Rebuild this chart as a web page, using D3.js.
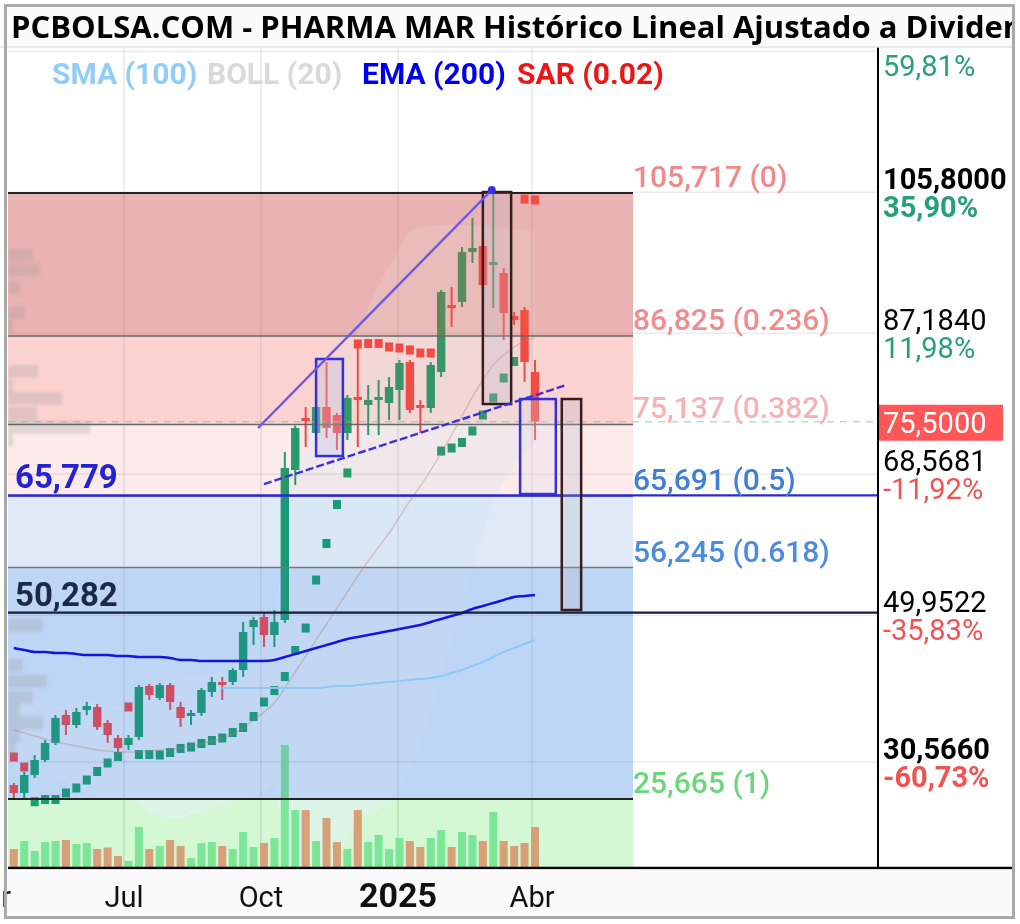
<!DOCTYPE html>
<html>
<head>
<meta charset="utf-8">
<script src="https://cdn.jsdelivr.net/npm/d3@7/dist/d3.min.js"></script>
<style>
  html, body { margin: 0; padding: 0; background: #fff; }
  svg { display: block; }
</style>
</head>
<body>
<svg id="chart" width="1020" height="924"></svg>
<script>
// weekly candles, one date per week
var weekDates = ["2024-04-18","2024-04-25","2024-05-02","2024-05-09","2024-05-16","2024-05-23","2024-05-30",
  "2024-06-06","2024-06-13","2024-06-20","2024-06-27","2024-07-04","2024-07-11","2024-07-18","2024-07-25",
  "2024-08-01","2024-08-08","2024-08-15","2024-08-22","2024-08-29","2024-09-05","2024-09-12","2024-09-19",
  "2024-09-26","2024-10-03","2024-10-10","2024-10-17","2024-10-24","2024-10-31","2024-11-07","2024-11-14",
  "2024-11-21","2024-11-28","2024-12-05","2024-12-12","2024-12-19","2024-12-26","2025-01-02","2025-01-09",
  "2025-01-16","2025-01-23","2025-01-30","2025-02-06","2025-02-13","2025-02-20","2025-02-27","2025-03-06",
  "2025-03-13","2025-03-20","2025-03-27","2025-04-03"];
var openP  = [27.51,26.46,28.83,30.81,33.06,36.76,35.44,37.42,37.82,35.71,33.72,32.80,33.85,40.59,39.01,40.72,37.82,
  36.63,37.03,39.80,41.12,41.12,42.70,48.38,49.71,47.33,49.31,69.12,75.99,74.01,77.45,76.39,74.01,78.77,77.71,78.37,
  77.98,79.69,83.39,77.71,77.32,82.07,90.92,91.32,97.92,98.72,96.21,95.15,89.47,90.26,82.07];
var highP  = [27.78,29.23,31.48,33.46,36.76,37.42,37.69,38.48,38.22,36.10,34.12,34.12,40.72,40.86,40.99,40.99,38.48,
  37.42,40.33,41.78,41.78,42.97,49.05,49.71,50.37,50.63,71.50,75.00,77.45,77.98,83.39,76.65,79.03,86.00,80.35,81.01,
  81.41,83.66,83.66,78.37,83.39,92.90,93.30,98.58,102.41,99.51,105.72,95.81,90.00,90.66,83.66];
var lowP   = [25.80,25.67,28.44,30.55,32.80,34.12,35.04,36.76,34.78,33.06,31.87,32.14,33.46,38.74,38.74,37.42,35.18,
  35.44,36.63,39.14,38.74,40.72,41.78,46.01,45.74,45.74,48.91,67.14,72.16,73.09,73.35,71.77,73.09,72.16,73.75,73.75,
  75.73,75.73,76.65,74.01,76.65,81.41,88.02,90.66,96.47,91.58,90.52,86.30,88.28,80.75,73.09];
var closeP = [26.46,28.83,30.81,33.06,36.37,35.44,37.16,37.95,35.18,34.12,32.40,33.72,40.46,39.41,40.72,38.48,36.37,
  37.03,40.06,41.12,40.72,42.70,47.72,49.31,47.33,49.05,69.39,74.67,75.60,77.45,74.67,74.01,78.64,78.37,78.37,78.77,
  80.09,83.26,77.05,77.32,83.00,92.64,90.52,97.92,98.45,93.56,96.60,89.87,88.94,83.39,75.50];
// weekly volume, thousands of shares
var volume = [380,540,340,520,540,560,480,500,380,410,240,140,820,380,440,560,440,200,500,520,440,380,720,420,500,600,
  2460,1160,1160,540,1000,520,380,1160,520,660,380,600,540,420,600,760,420,720,660,540,1120,540,440,500,820];
var sarP = [31.21,29.89,25.30,25.60,25.60,26.46,27.12,28.17,29.30,30.42,31.28,37.82,31.54,31.54,31.48,31.81,32.34,
  32.53,33.00,33.39,33.72,34.45,35.11,36.56,38.48,39.99,41.85,45.28,48.25,54.59,59.42,64.57,68.73,85.77,85.83,85.83,
  85.37,85.24,84.98,84.58,84.58,71.63,72.03,72.76,74.28,76.39,78.64,81.28,83.46,104.92,104.79];
var ema200 = [45.61,45.35,45.08,45.08,44.95,44.95,44.82,44.69,44.69,44.69,44.55,44.55,44.42,44.42,44.42,44.29,44.03,
  44.03,43.89,43.89,43.89,43.89,43.89,43.89,43.89,44.03,44.42,44.82,45.22,45.61,46.01,46.41,46.80,47.07,47.33,47.60,
  47.86,48.12,48.39,48.65,49.05,49.45,49.84,50.24,50.77,51.16,51.56,51.96,52.35,52.48,52.62];
var sma100 = [null,null,null,null,null,null,null,null,null,null,null,null,null,null,null,null,null,null,null,null,
  40.33,40.33,40.33,40.33,40.33,40.33,40.33,40.33,40.33,40.33,40.46,40.59,40.59,40.72,40.86,40.99,41.12,41.25,41.39,
  41.52,41.65,41.91,42.31,42.70,43.23,43.76,44.42,45.08,45.61,46.14,46.67];
var bollUpper = [40.06,39.40,38.74,38.34,38.08,38.08,38.34,38.48,38.48,38.34,38.08,37.95,38.74,40.06,40.85,41.38,
  41.65,41.65,41.91,42.17,42.57,42.97,44.55,46.14,47.72,49.04,62.52,71.10,75.73,79.03,81.67,83.65,85.64,87.22,90.52,
  93.56,95.94,98.45,100.56,101.09,101.36,101.49,101.49,101.49,101.49,101.36,101.22,101.09,100.96,100.83,100.56];
var bollMid = [34.78,34.38,33.98,33.59,33.19,32.93,32.66,32.40,32.13,32.00,31.87,31.87,31.87,32.00,32.13,32.27,32.40,
  32.66,32.93,33.32,33.72,34.25,35.04,36.10,37.15,38.34,40.33,42.44,44.55,46.67,48.78,50.89,53.01,55.12,57.10,58.95,
  60.80,62.91,65.03,67.01,69.12,71.37,73.75,76.26,78.77,81.01,82.99,84.31,85.37,86.16,86.56];
var bollLower = [29.49,29.36,29.23,28.83,28.30,27.78,26.98,26.32,25.79,25.66,25.66,25.79,25.00,23.94,23.42,23.15,
  23.15,23.68,23.94,24.47,24.87,25.53,25.53,26.06,26.59,27.64,18.14,13.78,13.37,14.31,15.89,18.13,20.38,23.02,23.68,
  24.34,25.66,27.37,29.50,32.93,36.88,41.25,46.01,51.03,56.05,60.66,64.76,67.53,69.78,71.49,72.56];

// volume profile on the left edge
var profilePrice = [97.5,95.5,93.2,89.9,88.0,82.2,80.2,78.6,76.6,74.8,73.1,48.6,43.3,41.2,39.1,37.4,35.7,34.1,32.4];
var profileVol   = [25,32,12,17,5,30,5,54,29,82,5,35,15,39,25,12,35,12,8];

// Fibonacci retracement
var fibPrices = [105.717, 86.825, 75.137, 65.691, 56.245, 25.665];
var fibLabels = ["105,717 (0)", "86,825 (0.236)", "75,137 (0.382)", "65,691 (0.5)", "56,245 (0.618)", "25,665 (1)"];

// horizontal levels
var levelPrices = [65.779, 50.282];
var levelLabels = ["65,779", "50,282"];

// right axis (first price label sits under the title bar)
var axisPrices = [124.42, 105.80, 87.184, 68.5681, 49.9522, 30.566];
var axisLabels = ["124,4200", "105,8000", "87,1840", "68,5681", "49,9522", "30,5660"];
var axisPct    = ["59,81%", "35,90%", "11,98%", "-11,92%", "-35,83%", "-60,73%"];
var lastPrice = 75.50;
var lastLabel = "75,5000";

// time axis
var tickDates  = ["2024-04-01", "2024-07-01", "2024-10-01", "2025-01-01", "2025-04-01"];
var tickLabels = ["Abr", "Jul", "Oct", "2025", "Abr"];

// drawn annotations
var trendStart = ["2024-09-29", "2024-10-03"];
var trendEnd   = ["2025-03-05", "2025-04-24"];
var trendFrom  = [74.67, 67.27];
var trendTo    = [106.11, 80.35];
var boxStart = ["2024-11-07", "2025-02-27", "2025-03-24", "2025-04-21"];
var boxEnd   = ["2024-11-25", "2025-03-18", "2025-04-17", "2025-05-04"];
var boxTop   = [83.79, 105.85, 78.50, 78.50];
var boxBot   = [70.97, 77.84, 65.95, 50.63];

var legendNames = ["SMA (100)", "BOLL (20)", "EMA (200)", "SAR (0.02)"];

// ---------------------------------------------------------------
var svg = d3.select("#chart");
var parse = d3.utcParse("%Y-%m-%d");
var PL = 8, PR = 878, PT = 47, PB = 868, ZR = 633;

var x = d3.scaleUtc().domain([parse("2024-07-01"), parse("2025-04-01")]).range([124, 532]);
var y = d3.scaleLinear().domain([25.665, 105.717]).range([799, 193]);
var yv = d3.scaleLinear().domain([0, 3000]).range([PB, PB - 150]);
var wProf = d3.scaleLinear().domain([0, 100]).range([0, 100]);

var dates = weekDates.map(parse);
var data = dates.map(function(d, i) {
  return {date: d, o: openP[i], h: highP[i], l: lowP[i], c: closeP[i], v: volume[i], sar: sarP[i],
          ema: ema200[i], sma: sma100[i], up: bollUpper[i], mid: bollMid[i], lo: bollLower[i]};
});

var GREEN = "#14a06e", RED = "#f04848";

var defs = svg.append("defs");
defs.append("clipPath").attr("id", "plotclip")
  .append("rect").attr("x", PL).attr("y", PT).attr("width", PR - PL).attr("height", PB - PT);
defs.append("filter").attr("id", "blur").append("feGaussianBlur").attr("stdDeviation", 1.8);

svg.append("rect").attr("width", 1020).attr("height", 924).attr("fill", "#fff");

var plot = svg.append("g").attr("clip-path", "url(#plotclip)");

// fibonacci zones: a light base under the candles, a tint laid over them
var zoneBase  = ["rgb(227,217,231)", "rgb(252,231,236)", "rgb(253,247,250)", "rgb(242,249,252)", "rgb(220,241,255)"];
var zoneTint  = ["rgb(253,93,60)", "rgb(253,93,60)", "rgb(253,93,60)", "rgb(70,110,210)", "rgb(70,110,210)"];
var zoneAlpha = [0.3, 0.15, 0.08, 0.1, 0.2];
function zones(g, tint) {
  for (var i = 0; i < fibPrices.length - 1; i++) {
    g.append("rect").attr("x", PL).attr("width", ZR - PL)
      .attr("y", y(fibPrices[i])).attr("height", y(fibPrices[i + 1]) - y(fibPrices[i]))
      .attr("fill", tint ? zoneTint[i] : zoneBase[i])
      .attr("opacity", tint ? zoneAlpha[i] : 1);
  }
}
zones(plot.append("g"), false);
plot.append("rect").attr("x", PL).attr("width", ZR - PL)
  .attr("y", y(fibPrices[fibPrices.length - 1])).attr("height", PB - y(fibPrices[fibPrices.length - 1]))
  .attr("fill", "rgb(212,247,212)");

// bollinger band fill
var bollArea = d3.area().x(function(d) { return x(d.date); })
  .y0(function(d) { return y(d.lo); }).y1(function(d) { return y(d.up); }).curve(d3.curveMonotoneX);
plot.append("path").datum(data).attr("d", bollArea).attr("fill", "rgb(228,244,250)").attr("opacity", 0.5);

// grid
plot.selectAll("line.vg").data(tickDates).enter().append("line")
  .attr("x1", function(d) { return x(parse(d)); }).attr("x2", function(d) { return x(parse(d)); })
  .attr("y1", PT).attr("y2", PB).attr("stroke", "rgba(0,0,0,0.09)").attr("stroke-width", 1.5);
plot.selectAll("line.hg").data(axisPrices).enter().append("line")
  .attr("x1", PL).attr("x2", PR).attr("y1", function(d) { return y(d); }).attr("y2", function(d) { return y(d); })
  .attr("stroke", "rgba(0,0,0,0.08)").attr("stroke-width", 1.5);

// volume
plot.selectAll("rect.vol").data(data).enter().append("rect")
  .attr("x", function(d) { return x(d.date) - 4; })
  .attr("width", 8)
  .attr("y", function(d) { return yv(d.v); })
  .attr("height", function(d) { return PB - yv(d.v); })
  .attr("fill", function(d) { return d.c >= d.o ? "rgb(124,230,152)" : "rgb(214,160,120)"; });

// candles
var cg = plot.selectAll("g.candle").data(data).enter().append("g");
cg.append("line")
  .attr("x1", function(d) { return x(d.date); }).attr("x2", function(d) { return x(d.date); })
  .attr("y1", function(d) { return y(d.h); }).attr("y2", function(d) { return y(d.l); })
  .attr("stroke", function(d) { return d.c >= d.o ? GREEN : RED; }).attr("stroke-width", 2);
cg.append("rect")
  .attr("x", function(d) { return x(d.date) - 4.2; }).attr("width", 8.4)
  .attr("y", function(d) { return y(Math.max(d.o, d.c)); })
  .attr("height", function(d) { return Math.max(2.5, Math.abs(y(d.o) - y(d.c))); })
  .attr("fill", function(d) { return d.c >= d.o ? GREEN : RED; });

// parabolic SAR
plot.selectAll("rect.sar").data(data).enter().append("rect")
  .attr("x", function(d) { return x(d.date) - 4; }).attr("width", 8)
  .attr("y", function(d) { return y(d.sar) - 4.5; }).attr("height", 9)
  .attr("fill", function(d) { return d.sar > d.c ? RED : GREEN; });

zones(plot.append("g"), true);

// volume profile
plot.append("g").attr("filter", "url(#blur)").selectAll("rect").data(profilePrice).enter().append("rect")
  .attr("x", PL).attr("width", function(d, i) { return wProf(profileVol[i]); })
  .attr("y", function(d) { return y(d) - 6.5; }).attr("height", 13)
  .attr("fill", "#9a9a9a").attr("opacity", 0.28);

// fib lines
var fibLineColors = ["#222", "#666", "#666", "#2a2acc", "#777", "#222"];
plot.selectAll("line.fib").data(fibPrices).enter().append("line")
  .attr("x1", PL).attr("x2", ZR)
  .attr("y1", function(d) { return y(d); }).attr("y2", function(d) { return y(d); })
  .attr("stroke", function(d, i) { return fibLineColors[i]; })
  .attr("stroke-width", function(d, i) { return (i === 0 || i === 5) ? 2.2 : 1.6; });

// last price dashed
plot.append("line").attr("x1", PL).attr("x2", PR).attr("y1", y(lastPrice)).attr("y2", y(lastPrice))
  .attr("stroke", "rgba(110,200,160,0.55)").attr("stroke-width", 1.5).attr("stroke-dasharray", "7,6");

// moving averages
var line = function(key) {
  return d3.line().defined(function(d) { return d[key] != null; })
    .x(function(d) { return x(d.date); }).y(function(d) { return y(d[key]); }).curve(d3.curveMonotoneX);
};
plot.append("path").datum(data).attr("d", line("mid")).attr("fill", "none")
  .attr("stroke", "rgba(185,120,110,0.35)").attr("stroke-width", 1.5);
plot.append("path").datum(data).attr("d", line("sma")).attr("fill", "none")
  .attr("stroke", "#8ec8f4").attr("stroke-width", 2);
plot.append("path").datum(data).attr("d", line("ema")).attr("fill", "none")
  .attr("stroke", "#1515e0").attr("stroke-width", 2.5);

// horizontal levels
var levelColors = ["#2a2acc", "#15203a"];
plot.selectAll("line.lvl").data(levelPrices).enter().append("line")
  .attr("x1", PL).attr("x2", PR)
  .attr("y1", function(d) { return y(d); }).attr("y2", function(d) { return y(d); })
  .attr("stroke", function(d, i) { return levelColors[i]; }).attr("stroke-width", 2.2);

// boxes
var boxStroke = ["#3030e0", "#3a1c1c", "#3030e0", "#3a1c1c"];
var boxFill = ["rgba(190,190,225,0.3)", "rgba(190,180,200,0.25)", "rgba(220,220,235,0.25)", "rgba(170,180,200,0.25)"];
plot.selectAll("rect.box").data(boxStart).enter().append("rect")
  .attr("x", function(d) { return x(parse(d)); })
  .attr("width", function(d, i) { return x(parse(boxEnd[i])) - x(parse(d)); })
  .attr("y", function(d, i) { return y(boxTop[i]); })
  .attr("height", function(d, i) { return y(boxBot[i]) - y(boxTop[i]); })
  .attr("fill", function(d, i) { return boxFill[i]; })
  .attr("stroke", function(d, i) { return boxStroke[i]; }).attr("stroke-width", 2.5);

// triangle trend lines
var trendStroke = ["#6a58e6", "#3a30e0"];
plot.selectAll("line.trend").data(trendStart).enter().append("line")
  .attr("x1", function(d) { return x(parse(d)); })
  .attr("x2", function(d, i) { return x(parse(trendEnd[i])); })
  .attr("y1", function(d, i) { return y(trendFrom[i]); })
  .attr("y2", function(d, i) { return y(trendTo[i]); })
  .attr("stroke", function(d, i) { return trendStroke[i]; }).attr("stroke-width", 2.4)
  .attr("stroke-dasharray", function(d, i) { return i === 1 ? "8,3" : null; });
plot.append("circle").attr("cx", x(parse(trendEnd[0]))).attr("cy", y(trendTo[0])).attr("r", 4).attr("fill", "#3a30e0");

// fib labels
var fibTextColors = ["#f08a8a", "#f28b8b", "#f6b3b3", "#3f7fd6", "#4b8be0", "#6cd67c"];
plot.selectAll("text.fib").data(fibPrices).enter().append("text")
  .attr("x", ZR).attr("y", function(d) { return y(d) - 6; })
  .attr("font-family", "Roboto, sans-serif").attr("font-size", 30).attr("font-weight", 500)
  .attr("fill", function(d, i) { return fibTextColors[i]; })
  .text(function(d, i) { return fibLabels[i]; });

// level labels
var levelTextColors = ["#2323d4", "#1c2a48"];
plot.selectAll("text.lvl").data(levelPrices).enter().append("text")
  .attr("x", 15).attr("y", function(d) { return y(d) - 7; })
  .attr("font-family", "Roboto, sans-serif").attr("font-size", 33).attr("font-weight", 700)
  .attr("fill", function(d, i) { return levelTextColors[i]; })
  .text(function(d, i) { return levelLabels[i]; });

// right axis
var ax = svg.append("g");
ax.selectAll("text.ap").data(axisPrices.slice(1)).enter().append("text")
  .attr("x", 883).attr("y", function(d) { return y(d) - 3; })
  .attr("font-family", "Roboto, sans-serif").attr("font-size", 29)
  .attr("font-weight", function(d, i) { return (i === 0 || i === 4) ? 700 : 400; })
  .attr("fill", "#000").text(function(d, i) { return axisLabels[i + 1]; });
ax.selectAll("text.pct").data(axisPrices).enter().append("text")
  .attr("x", 883).attr("y", function(d) { return y(d) + 25; })
  .attr("font-family", "Roboto, sans-serif").attr("font-size", 29)
  .attr("font-weight", function(d, i) { return (i === 1 || i === 5) ? 700 : 400; })
  .attr("fill", function(d, i) { return axisPct[i].charAt(0) === "-" ? "#f25252" : "#27a07a"; })
  .text(function(d, i) { return axisPct[i]; });
ax.append("rect").attr("x", PR).attr("y", y(lastPrice) - 17).attr("width", 125).attr("height", 36).attr("fill", "#ff5757");
ax.append("text").attr("x", 883).attr("y", y(lastPrice) + 11)
  .attr("font-family", "Roboto, sans-serif").attr("font-size", 29).attr("fill", "#fff").text(lastLabel);
ax.append("line").attr("x1", PR).attr("x2", PR).attr("y1", PT).attr("y2", PB).attr("stroke", "#000").attr("stroke-width", 2);
ax.append("line").attr("x1", PL).attr("x2", 1013).attr("y1", PB).attr("y2", PB).attr("stroke", "#000").attr("stroke-width", 2.5);

// bottom labels
svg.append("rect").attr("x", 0).attr("y", PB + 1.5).attr("width", 1020).attr("height", 50).attr("fill", "#fafafa");
svg.selectAll("text.tick").data(tickDates).enter().append("text")
  .attr("x", function(d) { return x(parse(d)); }).attr("y", 907)
  .attr("text-anchor", "middle").attr("font-family", "Roboto, sans-serif")
  .attr("font-size", function(d, i) { return tickLabels[i] === "2025" ? 34 : 29; })
  .attr("font-weight", function(d, i) { return tickLabels[i] === "2025" ? 700 : 400; })
  .attr("fill", "#111").text(function(d, i) { return tickLabels[i]; });

// legend
var legendX = [52, 207, 362, 517];
var legendColors = ["#92cdf8", "#d9d9d9", "#0000ee", "#ee1515"];
svg.selectAll("text.leg").data(legendNames).enter().append("text")
  .attr("x", function(d, i) { return legendX[i]; }).attr("y", 84)
  .attr("font-family", "Roboto, sans-serif").attr("font-size", 30).attr("font-weight", 700)
  .attr("fill", function(d, i) { return legendColors[i]; }).text(function(d) { return d; });

// title bar
svg.append("rect").attr("x", 0).attr("y", 0).attr("width", 1020).attr("height", PT).attr("fill", "#fbfbfb");
svg.append("line").attr("x1", 0).attr("x2", 1020).attr("y1", PT).attr("y2", PT).attr("stroke", "#e2e2e2").attr("stroke-width", 1.5);
svg.append("text").attr("x", 11).attr("y", 38)
  .attr("font-family", "'Open Sans', sans-serif").attr("font-size", 31).attr("font-weight", 700)
  .attr("fill", "#000").text("PCBOLSA.COM - PHARMA MAR Histórico Lineal Ajustado a Dividendos");

// outer frame
svg.append("rect").attr("x", 0).attr("y", 0).attr("width", 1020).attr("height", 5).attr("fill", "#fff");
svg.append("rect").attr("x", 1015).attr("y", 0).attr("width", 5).attr("height", 924).attr("fill", "#fff");
svg.append("rect").attr("x", 5.5).attr("y", 5.5).attr("width", 1008).attr("height", 912)
  .attr("fill", "none").attr("stroke", "#a9a9a9").attr("stroke-width", 3);
</script>
</body>
</html>
